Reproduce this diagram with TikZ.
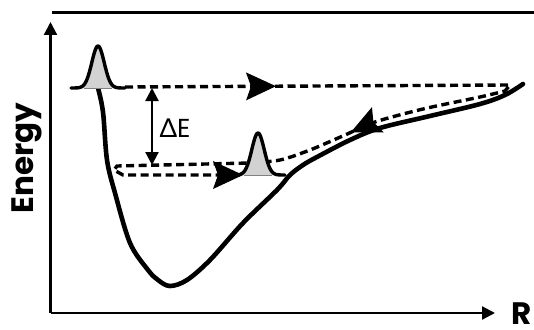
\documentclass[tikz,border=0pt]{standalone}
\usepackage{fontspec}
\usepackage{tikz}
\usetikzlibrary{arrows.meta,decorations.markings}

\newfontfamily\labelfont{Poppins}
\newfontfamily\deltafont{Lato}

\tikzset{
    hoptip/.tip={Stealth[length=30pt, width=28pt, inset=5pt, line width=0pt]},
    axistip/.tip={Triangle[length=13pt, width=13pt]},
}

\begin{document}
\begin{tikzpicture}[x=1pt, y=-1pt,
        axis/.style={line width=2.2pt, -axistip},
        gap/.style={line width=2.2pt, axistip-axistip},
        well/.style={line width=4.6pt, line cap=round, line join=round},
        hop/.style={line width=3.4pt, dash pattern=on 8pt off 4.5pt},
        packet/.style={line width=3.4pt, line cap=round, line join=round},
        big label/.style={font={\labelfont\bfseries\fontsize{31pt}{31pt}\selectfont}}]
        % Keep the picture at the size of the original
        \useasboundingbox (0,0) rectangle (534,329);

        % Rule across the top
        \draw[line width=2.8pt] (52,12.3) -- (534,12.3);

        % Axes and their labels
        \coordinate (origin) at (50.5,313);
        \coordinate (ytip) at (50.5,22);
        \coordinate (xtip) at (495,313);
        \draw[axis] (origin) -- (ytip);
        \draw[axis] (origin) -- (xtip);
        \node[big label, rotate=90, anchor=base] (energy) at (33,158) {Energy};
        \node[big label, anchor=base, inner sep=0pt] (rlabel) at (522,324) {R};

        % Potential well
        \draw[well] plot[smooth, tension=0.55] coordinates {(98,88) (103,112) (107,160)
            (115,193) (130,243) (148,270) (158,280) (170,286) (187,280) (210,260)
            (243,223) (277,190) (290,175) (303,165) (317,157) (350,140) (380,128)
            (430,116) (480,104) (505,95) (523,84)};

        % Dashed excursion: out along the top, back down the wall, into the lower level
        \coordinate (hopstart) at (125,87);
        \coordinate (turn) at (510,85);
        \coordinate (hopend) at (243,175);
        \draw[hop, -hoptip, postaction={decorate}, decoration={markings,
                mark=at position 151pt with {\arrow{hoptip}},
                mark=at position 553pt with {\arrow{hoptip}}}]
            (hopstart) -- (turn)
            -- plot[smooth, tension=0.5] coordinates {(505,91) (480,97) (423,109)
                (375,122) (345,135) (310,150) (280,160) (250,163)}
            -- (117,166) -- (114,170) -- (123,175) -- (hopend);

        % Wave packets on the two levels
        \foreach \cx/\base in {98/88, 258/175} {
            \fill[gray!35] plot[domain=-27:27, samples=60]
                ({\cx+\x},{\base-42*exp(-0.5*(\x/6.2)*(\x/6.2))}) -- cycle;
            \draw[gray, line width=0.8pt] (\cx-14,\base) -- (\cx+14,\base);
            \draw[packet] plot[domain=-27:27, samples=60]
                ({\cx+\x},{\base-42*exp(-0.5*(\x/6.2)*(\x/6.2))});
        }

        % Energy gap between the levels
        \coordinate (gaptop) at (152,88);
        \coordinate (gapbot) at (152,165);
        \draw[gap] (gaptop) -- (gapbot);
        \node[font={\labelfont\fontsize{26pt}{26pt}\selectfont}, anchor=base west] (gaplabel)
            at (156,137) {{\deltafont Δ}E};
\end{tikzpicture}
\end{document}
